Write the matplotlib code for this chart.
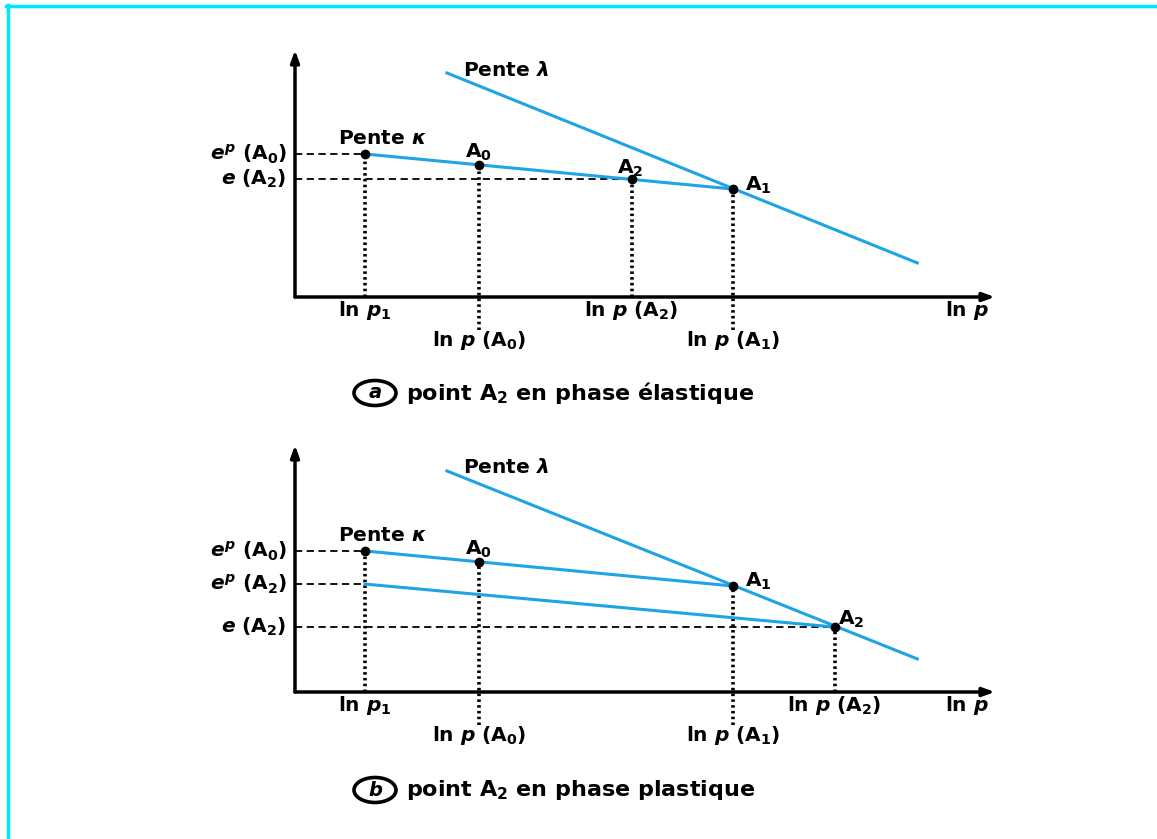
import matplotlib.pyplot as plt
from matplotlib.lines import Line2D
from matplotlib.patches import Ellipse

plt.rcParams['font.family'] = ['DejaVu Sans']
plt.rcParams['font.weight'] = 'bold'
plt.rcParams['mathtext.fontset'] = 'custom'
plt.rcParams['mathtext.rm'] = 'DejaVu Sans:bold'
plt.rcParams['mathtext.it'] = 'DejaVu Sans:italic:bold'
plt.rcParams['mathtext.bf'] = 'DejaVu Sans:bold'

BLUE = "#1ea3e6"
W, H = 1157, 839
FS = 14.5

# --- panel (a): A2 in elastic phase ---
a_lnp = {"p1": 1.0, "A0": 2.63, "A2": 4.81, "A1": 6.26}
a_e = {"p1": 5.79, "A0": 5.34, "A2": 4.78, "A1": 4.37}
a_lambda_x = [2.17, 8.89]
a_lambda_y = [9.07, 1.38]

# --- panel (b): A2 in plastic phase ---
b_lnp = {"p1": 1.0, "A0": 2.63, "A1": 6.26, "A2": 7.71}
b_e = {"p1": 5.71, "A0": 5.26, "A1": 4.29, "A2": 2.63}
b_ep_A2 = 4.37          # e^p(A2) level at ln p1
b_lambda_x = [2.17, 8.89]
b_lambda_y = [8.95, 1.34]

fig = plt.figure(figsize=(W / 100, H / 100), dpi=100)
fig.patch.set_facecolor("white")

# cyan frame (left and top edges)
fig.add_artist(Line2D([8 / W, 8 / W], [0, 1 - 5 / H], color="#00e5ff", lw=2.5))
fig.add_artist(Line2D([6 / W, 1], [1 - 6 / H, 1 - 6 / H], color="#00e5ff", lw=2.5))


def make_axes(origin_y):
    # origin at pixel (295, origin_y), 70 px per x unit, 24.7 px per y unit
    ax = fig.add_axes([295 / W, (H - origin_y) / H, 700 / W, 247 / H])
    ax.set_xlim(0, 10)
    ax.set_ylim(0, 10)
    ax.axis("off")
    for end in [(10, 0), (0, 10)]:
        ax.annotate("", xy=end, xytext=(0, 0), annotation_clip=False,
                    arrowprops=dict(arrowstyle="-|>,head_length=0.7,head_width=0.25",
                                    color="black", lw=2.5, shrinkA=0, shrinkB=0))
    return ax


def hdash(ax, x, y):
    ax.plot([0, x], [y, y], color="black", lw=1.3, ls=(0, (4, 2.5)), zorder=2)


def vdot(ax, x, y, y0=0):
    ax.plot([x, x], [y0, y], color="black", lw=2.6, ls=(0, (0.7, 0.9)),
            clip_on=False, zorder=2)


def label(ax, x, y, s, ha="left"):
    ax.text(x, y, s, ha=ha, va="center", fontsize=FS, clip_on=False)


def ylabel(ax, y, s):
    ax.text(-0.12, y, s, ha="right", va="center", fontsize=FS, clip_on=False)


def xlabel(ax, x, s, low=False):
    ax.text(x, -1.3 if low else -0.1, s, ha="center", va="top", fontsize=FS,
            clip_on=False)


def caption(ypix, letter, text):
    yf = 1 - ypix / H
    fig.add_artist(Ellipse((375 / W, yf), 42 / W, 25 / H, transform=fig.transFigure,
                           fill=False, ec="black", lw=2.6))
    fig.text(375 / W, yf, letter, ha="center", va="center", fontsize=14,
             style="italic")
    fig.text(406 / W, yf, text, ha="left", va="center", fontsize=16,
             fontweight="heavy")


# ---------------- panel (a) ----------------
ax = make_axes(297)
hdash(ax, a_lnp["p1"], a_e["p1"])
hdash(ax, a_lnp["A2"], a_e["A2"])
vdot(ax, a_lnp["p1"], a_e["p1"])
vdot(ax, a_lnp["A0"], a_e["A0"], -1.35)
vdot(ax, a_lnp["A2"], a_e["A2"])
vdot(ax, a_lnp["A1"], a_e["A1"], -1.35)
ax.plot(a_lambda_x, a_lambda_y, color=BLUE, lw=2.2, zorder=3)
ax.plot([a_lnp["p1"], a_lnp["A1"]], [a_e["p1"], a_e["A1"]], color=BLUE, lw=2.2, zorder=3)
for k in ["p1", "A0", "A2", "A1"]:
    ax.plot(a_lnp[k], a_e[k], "o", color="black", ms=6, zorder=4)
label(ax, a_lnp["p1"] - 0.39, a_e["p1"] + 0.62, r"Pente $\kappa$")
label(ax, a_lnp["A0"] - 0.2, a_e["A0"] + 0.53, r"A$_0$")
label(ax, a_lnp["A2"] - 0.21, a_e["A2"] + 0.44, r"A$_2$")
label(ax, a_lnp["A1"] + 0.17, a_e["A1"] + 0.16, r"A$_1$")
label(ax, a_lambda_x[0] + 0.23, a_lambda_y[0] + 0.12, r"Pente $\lambda$")
ylabel(ax, a_e["p1"], r"$e^p$ (A$_0$)")
ylabel(ax, a_e["A2"], r"$e$ (A$_2$)")
xlabel(ax, a_lnp["p1"], r"ln $p_1$")
xlabel(ax, a_lnp["A0"], r"ln $p$ (A$_0$)", low=True)
xlabel(ax, a_lnp["A2"], r"ln $p$ (A$_2$)")
xlabel(ax, a_lnp["A1"], r"ln $p$ (A$_1$)", low=True)
xlabel(ax, 9.6, r"ln $p$")
caption(393, "a", r"point A$_2$ en phase élastique")

# ---------------- panel (b) ----------------
ax = make_axes(692)
hdash(ax, b_lnp["p1"], b_e["p1"])
hdash(ax, b_lnp["p1"], b_ep_A2)
hdash(ax, b_lnp["A2"], b_e["A2"])
vdot(ax, b_lnp["p1"], b_e["p1"])
vdot(ax, b_lnp["A0"], b_e["A0"], -1.35)
vdot(ax, b_lnp["A1"], b_e["A1"], -1.35)
vdot(ax, b_lnp["A2"], b_e["A2"])
ax.plot(b_lambda_x, b_lambda_y, color=BLUE, lw=2.2, zorder=3)
ax.plot([b_lnp["p1"], b_lnp["A1"]], [b_e["p1"], b_e["A1"]], color=BLUE, lw=2.2, zorder=3)
ax.plot([b_lnp["p1"], b_lnp["A2"]], [b_ep_A2, b_e["A2"]], color=BLUE, lw=2.2, zorder=3)
for k in ["p1", "A0", "A1", "A2"]:
    ax.plot(b_lnp[k], b_e[k], "o", color="black", ms=6, zorder=4)
label(ax, b_lnp["p1"] - 0.39, b_e["p1"] + 0.62, r"Pente $\kappa$")
label(ax, b_lnp["A0"] - 0.2, b_e["A0"] + 0.53, r"A$_0$")
label(ax, b_lnp["A1"] + 0.17, b_e["A1"] + 0.2, r"A$_1$")
label(ax, b_lnp["A2"] + 0.05, b_e["A2"] + 0.3, r"A$_2$")
label(ax, b_lambda_x[0] + 0.23, b_lambda_y[0] + 0.12, r"Pente $\lambda$")
ylabel(ax, b_e["p1"], r"$e^p$ (A$_0$)")
ylabel(ax, b_ep_A2, r"$e^p$ (A$_2$)")
ylabel(ax, b_e["A2"], r"$e$ (A$_2$)")
xlabel(ax, b_lnp["p1"], r"ln $p_1$")
xlabel(ax, b_lnp["A0"], r"ln $p$ (A$_0$)", low=True)
xlabel(ax, b_lnp["A1"], r"ln $p$ (A$_1$)", low=True)
xlabel(ax, b_lnp["A2"], r"ln $p$ (A$_2$)")
xlabel(ax, 9.6, r"ln $p$")
caption(790, "b", r"point A$_2$ en phase plastique")

fig.savefig("out.png", dpi=100, facecolor="white")
